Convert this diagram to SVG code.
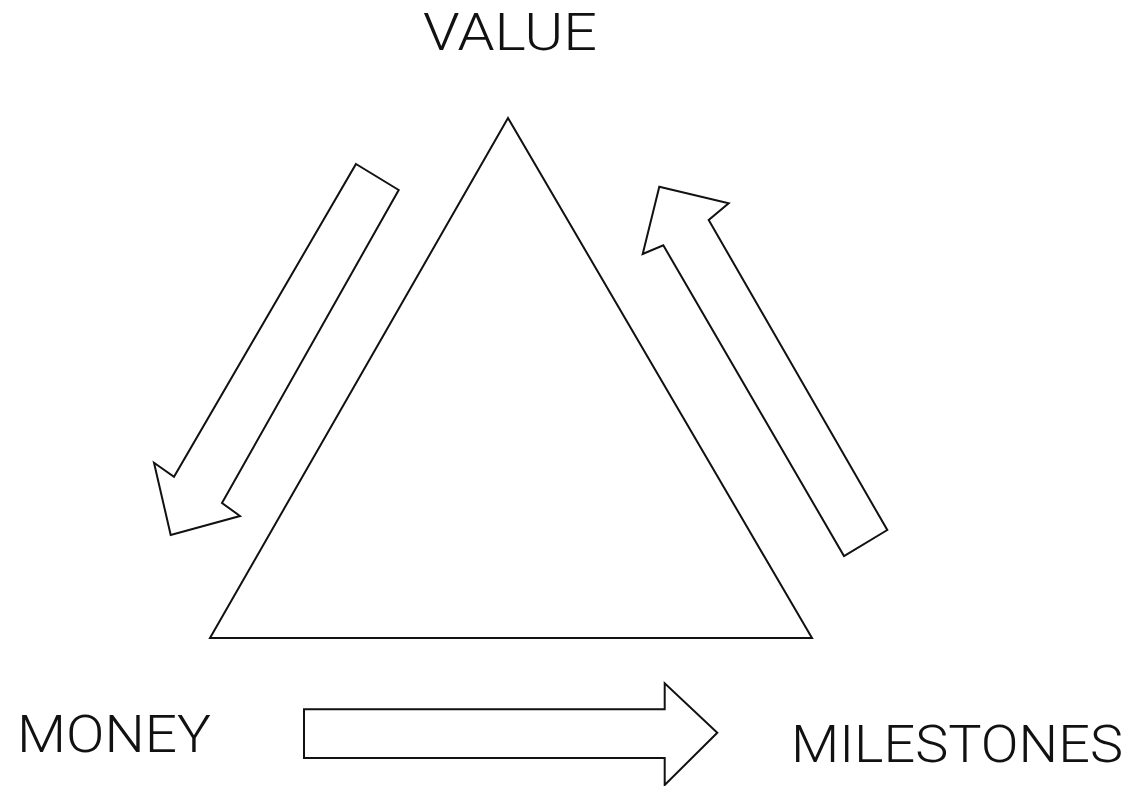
<svg xmlns="http://www.w3.org/2000/svg" width="1134" height="786" viewBox="0 0 1134 786">
<style>
.shape{fill:#fff;stroke:#111;stroke-width:2;stroke-linejoin:miter}
.lbl{font-family:Roboto,"Noto Sans","Liberation Sans",sans-serif;font-weight:300;font-size:52px;fill:#111}
</style>
<rect width="1134" height="786" fill="#fff"/>
<g id="triangle">
<polygon class="shape" points="508,118 210,638 812,638"/>
</g>
<g id="connectors">
<polygon id="arrow-left" class="shape" points="356,164 398.7,190 222,503 240,516 170.7,535 154,462.7 174,476.7"/>
<polygon id="arrow-right" class="shape" points="659.3,186.7 728.7,203.3 708.7,220 887.3,530 844,556 663.3,245.3 642.7,254"/>
<polygon id="arrow-bottom" class="shape" points="304,709.3 664.7,709.3 664.7,683.3 717.3,732.7 664.7,785 664.7,758 304,758"/>
</g>
<g id="value"><text class="lbl" x="423" y="50" textLength="174" lengthAdjust="spacingAndGlyphs">VALUE</text></g>
<g id="money"><text class="lbl" x="17" y="752" textLength="194" lengthAdjust="spacingAndGlyphs">MONEY</text></g>
<g id="milestones"><text class="lbl" x="791" y="762" textLength="332" lengthAdjust="spacingAndGlyphs">MILESTONES</text></g>
</svg>
